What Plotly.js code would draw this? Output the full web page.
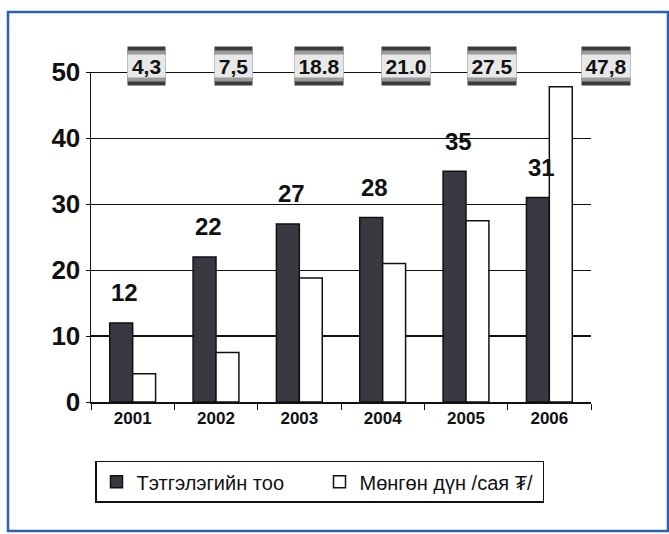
<!DOCTYPE html>
<html>
<head>
<meta charset="utf-8">
<script src="https://cdn.plot.ly/plotly-3.0.1.min.js"></script>
<style>html,body{margin:0;padding:0;background:#fff;}#chart{width:669px;height:534px;}</style>
</head>
<body>
<div id="chart"></div>
<script>
const years = ['2001', '2002', '2003', '2004', '2005', '2006'];
const grantCount = [12, 22, 27, 28, 35, 31];
const amountMillion = [4.3, 7.5, 18.8, 21.0, 27.5, 47.8];
const amountLabels = ['4,3', '7,5', '18.8', '21.0', '27.5', '47,8'];
const seriesNames = ['Тэтгэлэгийн тоо', 'Мөнгөн дүн /сая ₮/'];

const FONT = 'Liberation Sans, Arial, sans-serif';

const traces = [
  {
    type: 'bar', name: seriesNames[0], x: years, y: grantCount,
    marker: {color: '#3a3840', line: {color: '#111', width: 1.5}},
    hoverinfo: 'skip'
  },
  {
    type: 'bar', name: seriesNames[1], x: years, y: amountMillion,
    marker: {color: '#ffffff', line: {color: '#111', width: 1.5}},
    hoverinfo: 'skip'
  }
];

const annotations = [];
const last = years.length - 1;
years.forEach((yr, i) => {
  annotations.push({
    x: i, y: grantCount[i], xref: 'x', yref: 'y',
    text: String(grantCount[i]), showarrow: false,
    xshift: -8, yshift: 30, yanchor: 'middle',
    font: {family: FONT, size: 24, weight: 'bold', color: '#111'}
  });
  const txt = amountLabels[i];
  const w = txt.length * 11 + 4;
  const xs = i === last ? 57 : 14 + 3 * i;
  // dark outer band
  annotations.push({
    x: i, y: 50, xref: 'x', yref: 'y',
    text: txt, showarrow: false, xshift: xs, yshift: 6, yanchor: 'middle',
    width: w, height: 38, borderpad: 0, bgcolor: '#3c3c3c',
    font: {family: FONT, size: 21, weight: 'bold', color: '#3c3c3c'}
  });
  // mid-tone band
  annotations.push({
    x: i, y: 50, xref: 'x', yref: 'y',
    text: txt, showarrow: false, xshift: xs, yshift: 6, yanchor: 'middle',
    width: w, height: 30, borderpad: 0, bgcolor: '#9a9a9a',
    font: {family: FONT, size: 21, weight: 'bold', color: '#9a9a9a'}
  });
  // light centre with the value
  annotations.push({
    x: i, y: 50, xref: 'x', yref: 'y',
    text: txt, showarrow: false, xshift: xs, yshift: 6, yanchor: 'middle',
    width: w, height: 22, borderpad: 0, bgcolor: '#e8e8e8',
    font: {family: FONT, size: 21, weight: 'bold', color: '#111'}
  });
});

const layout = {
  width: 669, height: 534,
  margin: {l: 91, r: 78, t: 72, b: 132},
  paper_bgcolor: '#ffffff', plot_bgcolor: '#ffffff',
  barmode: 'group', bargap: 0.45, bargroupgap: 0,
  showlegend: true,
  legend: {
    orientation: 'h', x: 0.008, y: -0.178, xanchor: 'left', yanchor: 'top',
    bordercolor: '#111', borderwidth: 1.5, bgcolor: '#fff',
    entrywidth: 178, entrywidthmode: 'pixels', itemwidth: 30,
    font: {family: FONT, size: 20, color: '#111'}
  },
  xaxis: {
    type: 'category', range: [-0.5, 5.5], autorange: false,
    showgrid: false, showline: true, linecolor: '#111', linewidth: 1.5,
    ticks: 'outside', tickson: 'boundaries', ticklen: 6, tickcolor: '#111',
    tickfont: {family: FONT, size: 17, weight: 'bold', color: '#111'}
  },
  yaxis: {
    range: [0, 50.05], autorange: false, dtick: 10, tick0: 0,
    showgrid: true, gridcolor: '#111', gridwidth: 1.2,
    showline: true, linecolor: '#111', linewidth: 1.5,
    ticks: 'outside', ticklen: 4, tickcolor: '#111',
    zeroline: false,
    tickfont: {family: FONT, size: 26, weight: 'bold', color: '#111'}
  },
  annotations: annotations,
  shapes: [
    {
      type: 'line', xref: 'paper', yref: 'y', x0: 0, x1: 1, y0: 50, y1: 50,
      line: {color: '#111', width: 1.5}, layer: 'below'
    },
    {
      type: 'rect', xref: 'paper', yref: 'paper',
      x0: -0.166, x1: 1.154, y0: -0.391, y1: 1.182,
      line: {color: '#2f5fb0', width: 2.5}, fillcolor: 'rgba(0,0,0,0)', layer: 'below'
    }
  ]
};

Plotly.newPlot('chart', traces, layout, {displayModeBar: false, staticPlot: true});
</script>
</body>
</html>
